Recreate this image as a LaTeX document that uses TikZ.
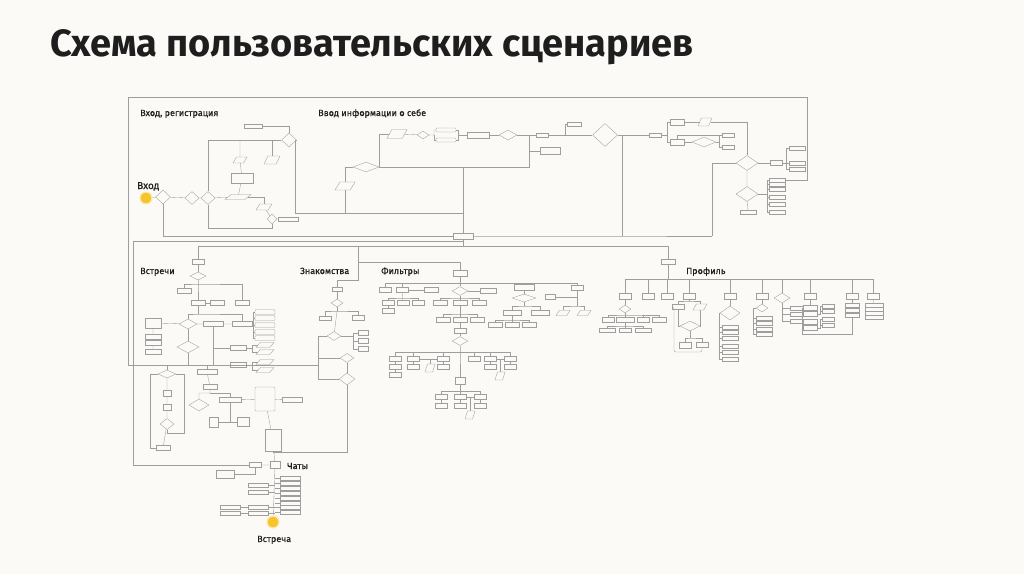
\documentclass[tikz,border=0pt]{standalone}
\usepackage{fontspec}
\setmainfont{Fira Sans}
\newfontfamily\lblfont{Fira Sans}[FakeBold=0.35]
\usetikzlibrary{shapes.geometric}
\definecolor{bg}{HTML}{FBFAF6}
\definecolor{lngray}{HTML}{9E9E9E}
\definecolor{ink}{HTML}{1E1E1E}
\definecolor{yel}{HTML}{F6C42B}

\begin{document}
\begin{tikzpicture}[x=1pt,y=-1pt,
  ln/.style={draw=lngray,line width=0.35pt},
  bx/.style={draw=lngray,fill=bg,line width=0.35pt,inner sep=0pt,minimum width=14pt,minimum height=5pt},
  rbx/.style={bx,rounded corners=1pt},
  dm/.style={diamond,draw=lngray,fill=bg,line width=0.35pt,inner sep=0pt,minimum width=14pt,minimum height=9pt},
  pr/.style={trapezium,trapezium left angle=65,trapezium right angle=115,trapezium stretches=true,
    draw=lngray,fill=bg,line width=0.35pt,inner sep=0.5pt,minimum width=14pt,minimum height=6pt},
  dot/.style={circle,fill=yel,draw=yel!35,line width=1.2pt,inner sep=0pt,minimum size=12pt},
  lbl/.style={anchor=base west,inner sep=0pt,text=ink,font=\lblfont\fontsize{9}{10}\selectfont}]
  \useasboundingbox[fill=bg] (0,0) rectangle (1024,574);

  \node[anchor=base west,inner sep=0pt,text=ink,font=\bfseries\fontsize{38}{42}\selectfont] (title)
    at (50,56) {Схема пользовательских сценариев};

  % labels
  \node[lbl] (tReg) at (140,116) {Вход, регистрация};
  \node[lbl] (tInfo) at (318,116) {Ввод информации о себе};
  \node[lbl,font=\lblfont\fontsize{10}{11}\selectfont] (tIn) at (137,189) {Вход};
  \node[lbl] (tMeet) at (140,274) {Встречи};
  \node[lbl] (tDate) at (300,274) {Знакомства};
  \node[lbl] (tFilt) at (381,274) {Фильтры};
  \node[lbl] (tProf) at (686,274) {Профиль};
  \node[lbl] (tChat) at (287,469) {Чаты};
  \node[lbl] (tEnd) at (257,542) {Встреча};

  \coordinate (fl) at (128,97);
  \coordinate (fr) at (807,97);

  % вход, регистрация
  \node[dot] (start) at (146,198) {};
  \node[dm,minimum width=15pt,minimum height=14pt] (a1) at (163,197) {};
  \node[dm,minimum width=14pt,minimum height=13pt] (a2) at (192,198) {};
  \node[dm,minimum width=14pt,minimum height=13pt] (a3) at (208,198) {};
  \node[pr,minimum width=26pt,minimum height=5pt] (a4) at (238,197) {};
  \node[bx,minimum width=22pt,minimum height=10pt] (a5) at (242,178) {};
  \node[pr] (a6) at (240,160) {};
  \node[pr,minimum width=16pt,minimum height=8pt] (a7) at (272,160) {};
  \node[dm,minimum width=15pt,minimum height=14pt] (a8) at (289,140) {};
  \node[bx,minimum width=18pt,minimum height=4pt] (a9) at (253,126) {};
  \node[pr,minimum width=16pt] (a10) at (264,207) {};
  \node[dm,minimum width=10pt,minimum height=10pt] (a11) at (272,219) {};
  \node[bx,minimum width=20pt,minimum height=4pt] (a12) at (288,219) {};
  \coordinate (a3b) at (208,228);
  \coordinate (a8r) at (295,213);

  % ввод информации о себе
  \node[bx,minimum width=20pt,minimum height=6pt] (hub) at (463,236) {};
  \node[pr,minimum width=20pt,minimum height=8pt] (b1) at (345,186) {};
  \node[dm,minimum width=26pt,minimum height=10pt] (b2) at (366,167) {};
  \node[pr,minimum width=20pt,minimum height=9pt] (b3) at (397,134) {};
  \node[dm,minimum width=12pt,minimum height=8pt] (b4) at (423,135) {};
  \node[rbx,minimum width=20pt,minimum height=4pt] (b5) at (446,130) {};
  \node[rbx,minimum width=20pt,minimum height=4pt] (b6) at (446,140) {};
  \node[bx,minimum width=22pt,minimum height=6pt] (b7) at (478,135) {};
  \node[dm,minimum width=18pt,minimum height=10pt] (b8) at (508,135) {};
  \node[bx,minimum width=12pt,minimum height=4pt] (b9) at (542,135) {};
  \node[bx,minimum width=14pt,minimum height=4pt] (b10) at (574,124) {};
  \node[dm,minimum width=25pt,minimum height=23pt] (b11) at (605,135) {};
  \node[bx,minimum width=20pt,minimum height=7pt] (b12) at (550,151) {};
  \coordinate (bs) at (434,135);
  \coordinate (bj) at (458,135);
  \coordinate (bk) at (565,135);
  \coordinate (bc) at (529,167);
  \coordinate (bd) at (622,236);

  \node[bx,minimum width=12pt,minimum height=4pt] (c1) at (655,135) {};
  \node[bx,minimum width=14pt,minimum height=6pt] (c2) at (677,122) {};
  \node[pr,minimum width=14pt,minimum height=8pt] (c3) at (705,122) {};
  \node[bx,minimum width=14pt,minimum height=6pt] (c4) at (677,142) {};
  \node[dm,minimum width=24pt,minimum height=10pt] (c5) at (704,142) {};
  \node[bx,minimum width=12pt,minimum height=4pt] (c6) at (728,135) {};
  \node[bx,minimum width=12pt,minimum height=4pt] (c7) at (728,147) {};
  \node[dm,minimum width=22pt,minimum height=15pt] (c8) at (747,163) {};
  \node[bx,minimum width=12pt,minimum height=5pt] (c9) at (776,163) {};
  \node[bx,minimum width=16pt,minimum height=4pt] (c10) at (797,148) {};
  \node[bx,minimum width=16pt,minimum height=4pt] (c11) at (797,163) {};
  \node[bx,minimum width=16pt,minimum height=4pt] (c12) at (797,169) {};
  \node[dm,minimum width=22pt,minimum height=15pt] (c13) at (747,194) {};
  \node[bx,minimum width=16pt,minimum height=4pt] (c14) at (748,212) {};
  \foreach \i/\y in {1/180,2/184,3/189,4/197,5/204,6/212}
    \node[bx,minimum width=16pt,minimum height=4pt] (d\i) at (777,\y) {};
  \coordinate (cs) at (667,135);
  \coordinate (ct) at (719,142);
  \coordinate (cu) at (786,163);
  \coordinate (cv) at (767,194);
  \coordinate (cz) at (712,236);

  % общие линии
  \coordinate (g1) at (133,241);
  \coordinate (g2) at (133,465);
  \coordinate (g3) at (198,246);
  \coordinate (g4) at (668,246);
  \coordinate (g5) at (358,280);
  \coordinate (g6) at (358,262);
  \coordinate (g7) at (128,365);

  % встречи
  \node[bx,minimum width=12pt] (m1) at (198,262) {};
  \node[dm,minimum width=16pt,minimum height=8pt] (m2) at (198,276) {};
  \node[bx] (m3) at (184,291) {};
  \node[bx] (m4) at (198,303) {};
  \node[bx] (m5) at (217,303) {};
  \node[bx] (m6) at (242,303) {};
  \node[dm,minimum width=18pt,minimum height=10pt] (m7) at (188,324) {};
  \node[bx,minimum width=20pt] (m8) at (213,324) {};
  \node[bx,minimum width=20pt] (m9) at (242,324) {};
  \foreach \i/\y in {10/312,11/318,12/325,13/332,14/338}
    \node[rbx,minimum width=20pt] (m\i) at (265,\y) {};
  \node[dm,minimum width=22pt,minimum height=12pt] (m15) at (188,347) {};
  \node[bx,minimum width=16pt,minimum height=10pt] (m16) at (153,323) {};
  \node[bx,minimum width=16pt] (m17) at (153,337) {};
  \node[bx,minimum width=16pt] (m18) at (153,343) {};
  \node[bx,minimum width=16pt] (m19) at (153,352) {};
  \node[bx,minimum width=16pt] (m20) at (238,348) {};
  \node[pr,minimum width=18pt,minimum height=5pt] (m21) at (265,345) {};
  \node[pr,minimum width=18pt,minimum height=5pt] (m22) at (265,352) {};
  \node[bx,minimum width=16pt] (m23) at (238,365) {};
  \node[pr,minimum width=18pt,minimum height=5pt] (m24) at (265,362) {};
  \node[pr,minimum width=18pt,minimum height=5pt] (m25) at (265,370) {};
  \coordinate (mh) at (198,284);
  \coordinate (mi) at (198,314);
  \coordinate (mb) at (253,325);
  \coordinate (mc) at (252,348);
  \coordinate (md) at (252,365);

  \node[dm,minimum width=18pt,minimum height=8pt] (n1) at (167,374) {};
  \node[bx,minimum width=20pt] (n2) at (207,372) {};
  \node[bx] (n3) at (210,387) {};
  \node[dm,minimum width=20pt,minimum height=12pt] (n4) at (199,405) {};
  \node[bx,minimum width=22pt] (n5) at (230,400) {};
  \node[rbx,minimum width=20pt,minimum height=24pt] (n6) at (265,399) {};
  \node[bx,minimum width=20pt] (n7) at (292,400) {};
  \node[bx,minimum width=9pt,minimum height=10pt] (n8) at (214,422) {};
  \node[bx,minimum width=12pt,minimum height=9pt] (n9) at (243,422) {};
  \node[bx,minimum width=16pt,minimum height=22pt] (n10) at (273,440) {};
  \node[bx,minimum width=8pt,minimum height=6pt] (n11) at (167,393) {};
  \node[bx,minimum width=8pt,minimum height=6pt] (n12) at (167,407) {};
  \node[dm,minimum width=14pt,minimum height=11pt] (n13) at (167,424) {};
  \node[bx] (n14) at (163,448) {};
  \coordinate (ne) at (210,393);
  \coordinate (nl) at (150,448);
  \coordinate (nr) at (184,433);
  \coordinate (nz) at (347,452);

  % чаты
  \node[bx,minimum width=12pt] (h1) at (255,465) {};
  \node[bx,minimum width=10pt,minimum height=7pt] (h2) at (275,465) {};
  \node[bx,minimum width=18pt,minimum height=8pt] (h3) at (225,474) {};
  \foreach \i/\y in {1/478,2/483,3/488,4/493,5/498,6/503,7/507,8/512}
    \node[bx,minimum width=20pt,minimum height=4pt] (k\i) at (290,\y) {};
  \node[bx,minimum width=20pt,minimum height=4pt] (h4) at (258,485) {};
  \node[bx,minimum width=20pt,minimum height=4pt] (h5) at (258,492) {};
  \node[bx,minimum width=20pt,minimum height=4pt] (h6) at (230,507) {};
  \node[bx,minimum width=20pt,minimum height=4pt] (h7) at (230,513) {};
  \node[bx,minimum width=20pt,minimum height=4pt] (h8) at (258,507) {};
  \node[bx,minimum width=20pt,minimum height=4pt] (h9) at (258,513) {};
  \node[dot] (end) at (273,522) {};

  % знакомства
  \node[bx,minimum width=10pt,minimum height=4pt] (z1) at (337,289) {};
  \node[dm,minimum width=12pt,minimum height=8pt] (z2) at (337,303) {};
  \node[bx,minimum width=12pt,minimum height=4pt] (z3) at (325,318) {};
  \node[bx,minimum width=12pt] (z4) at (358,318) {};
  \node[dm,minimum width=14pt,minimum height=9pt] (z5) at (334,336) {};
  \node[bx,minimum width=10pt] (z7) at (363,333) {};
  \node[bx,minimum width=10pt] (z8) at (363,341) {};
  \node[bx,minimum width=10pt] (z9) at (363,349) {};
  \node[dm,minimum width=14pt,minimum height=9pt] (z10) at (347,358) {};
  \node[dm,minimum width=16pt,minimum height=12pt] (z6) at (347,379) {};
  \coordinate (zs) at (337,311);
  \coordinate (zl) at (318,336);
  \coordinate (zb) at (353,336);

  % фильтры
  \node[bx,minimum height=6pt] (f1) at (460,273) {};
  \node[bx,minimum width=12pt] (f2) at (385,290) {};
  \node[bx,minimum width=12pt] (f3) at (402,290) {};
  \node[bx] (f4) at (431,290) {};
  \node[dm,minimum width=16pt,minimum height=9pt] (f5) at (460,291) {};
  \node[bx,minimum width=16pt] (f6) at (488,291) {};
  \node[bx,minimum width=12pt] (f7) at (388,303) {};
  \node[bx,minimum width=12pt] (f8) at (403,303) {};
  \node[bx,minimum width=12pt] (f9) at (418,303) {};
  \node[bx,minimum width=12pt] (f10) at (388,311) {};
  \node[bx] (f11) at (440,303) {};
  \node[bx] (f12) at (460,303) {};
  \node[bx] (f13) at (479,303) {};
  \node[bx] (f14) at (443,320) {};
  \node[bx] (f15) at (460,320) {};
  \node[bx] (f16) at (477,320) {};
  \node[bx,minimum width=12pt] (f17) at (460,331) {};
  \node[dm,minimum width=16pt,minimum height=9pt] (f18) at (460,341) {};
  \foreach \i/\x in {19/395,20/413,21/443,22/474,23/490,24/510}
    \node[bx,minimum width=12pt] (f\i) at (\x,359) {};
  \foreach \i/\x in {25/395,26/413,27/443,28/490,29/510}
    \node[bx,minimum width=12pt] (f\i) at (\x,367) {};
  \node[bx,minimum width=12pt] (f30) at (395,375) {};
  \node[pr,minimum width=10pt,minimum height=8pt] (f31) at (430,368) {};
  \node[pr,minimum width=10pt,minimum height=8pt] (f32) at (500,376) {};
  \node[bx,minimum width=10pt,minimum height=7pt] (f33) at (460,381) {};
  \foreach \i/\x in {34/441,35/460,36/480}
    \node[bx,minimum width=12pt] (f\i) at (\x,397) {};
  \foreach \i/\x in {37/441,38/460,39/480}
    \node[bx,minimum width=12pt] (f\i) at (\x,406) {};
  \node[pr,minimum width=10pt,minimum height=8pt] (f40) at (470,415) {};
  \node[bx,minimum width=20pt,minimum height=6pt] (f41) at (524,287) {};
  \node[dm,minimum width=24pt,minimum height=8pt] (f42) at (524,298) {};
  \node[bx,minimum width=18pt] (f43) at (512,313) {};
  \node[bx,minimum width=18pt] (f44) at (540,313) {};
  \node[bx] (f45) at (495,325) {};
  \node[bx] (f46) at (512,325) {};
  \node[bx] (f47) at (529,325) {};
  \node[bx,minimum width=12pt] (f48) at (577,288) {};
  \node[bx,minimum width=10pt] (f49) at (550,297) {};
  \node[pr,minimum width=14pt,minimum height=5pt] (f50) at (563,313) {};
  \node[pr,minimum width=14pt,minimum height=5pt] (f51) at (584,313) {};
  \coordinate (fa) at (385,283);
  \coordinate (fb) at (577,283);
  \coordinate (fc) at (403,298);
  \coordinate (fd) at (460,298);
  \coordinate (fe) at (460,314);
  \coordinate (ff) at (460,352);
  \coordinate (fg) at (460,391);
  \coordinate (fi) at (524,306);
  \coordinate (fj) at (512,320);
  \coordinate (fk) at (577,306);

  % профиль
  \node[bx] (p0) at (668,262) {};
  \foreach \i/\x in {1/625,2/648,3/667,4/689,5/730,6/762,8/810,9/852,10/873}
    \node[bx,minimum width=12pt,minimum height=6pt] (p\i) at (\x,296) {};
  \node[dm,minimum width=16pt,minimum height=10pt] (p7) at (782,298) {};
  \coordinate (pa) at (625,279);
  \coordinate (pb) at (873,279);
  \node[dm,minimum width=12pt,minimum height=8pt] (q1) at (625,309) {};
  \node[bx,minimum width=12pt] (q2) at (608,320) {};
  \node[bx,minimum width=18pt] (q3) at (625,320) {};
  \node[bx,minimum width=12pt] (q4) at (643,320) {};
  \node[bx,minimum width=14pt] (q5) at (659,320) {};
  \node[bx,minimum width=16pt,minimum height=4pt] (q6) at (607,330) {};
  \node[bx,minimum width=12pt,minimum height=4pt] (q7) at (625,330) {};
  \node[bx,minimum width=16pt,minimum height=4pt] (q8) at (643,330) {};
  \coordinate (qa) at (625,315);
  \coordinate (qb) at (625,326);
  \node[bx,minimum width=12pt] (r1) at (678,307) {};
  \node[pr,minimum width=14pt,minimum height=6pt] (r2) at (700,307) {};
  \node[dm,minimum width=20pt,minimum height=10pt] (r3) at (690,326) {};
  \node[bx,minimum width=12pt,minimum height=6pt] (r4) at (685,345) {};
  \node[bx,minimum width=12pt] (r5) at (702,345) {};
  \coordinate (ra) at (689,301);
  \coordinate (rb) at (690,338);
  \coordinate (rc) at (674,352);
  \node[dm,minimum width=20pt,minimum height=14pt] (s0) at (730,313) {};
  \foreach \i/\y in {1/327,2/332,3/338,4/346,5/352,6/359}
    \node[bx,minimum width=16pt,minimum height=4pt] (s\i) at (730,\y) {};
  \coordinate (sb) at (719,359);
  \node[dm,minimum width=12pt,minimum height=8pt] (t0) at (762,308) {};
  \foreach \i/\y in {1/318,2/323,3/329,4/334}
    \node[bx,minimum width=16pt,minimum height=4pt] (t\i) at (764,\y) {};
  \coordinate (tb) at (753,334);
  \foreach \i/\y in {1/308,2/314,3/321}
    \node[bx,minimum width=14pt,minimum height=4pt] (u\i) at (797,\y) {};
  \coordinate (ub) at (782,321);
  \foreach \i/\y in {1/308,2/314,3/322,4/328}
    \node[bx,minimum width=14pt] (v\i) at (810,\y) {};
  \node[bx,minimum width=12pt,minimum height=4pt] (v5) at (828,306) {};
  \node[bx,minimum width=12pt,minimum height=4pt] (v6) at (828,311) {};
  \node[bx,minimum width=12pt,minimum height=4pt] (v7) at (828,319) {};
  \node[bx,minimum width=12pt,minimum height=4pt] (v8) at (828,325) {};
  \coordinate (vb) at (802,334);
  \coordinate (vc) at (820,314);
  \coordinate (vd) at (820,328);
  \foreach \i/\y in {1/305,2/310,3/315}
    \node[bx,minimum width=14pt,minimum height=4pt] (w\i) at (852,\y) {};
  \foreach \i/\y in {1/305,2/309,3/313,4/317}
    \node[bx,minimum width=18pt,minimum height=4pt] (x\i) at (874,\y) {};

  % connectors
  \begin{scope}[ln]
    \draw (start) -- (a1) -- (a2) -- (a3) -- (a4);
    \draw (a1) |- (hub);
    \draw (a3) |- (a8);
    \draw (a3) -- (a3b) -| (a11);
    \draw (a6 |- a8) -- (a6) -- (a5) -- (a4);
    \draw (a9) -| (a8);
    \draw (a8) -| (a7);
    \draw (a4) -| (a10);
    \draw (a10) -- (a11) -- (a12);
    \draw (a8.east) -| (a8r) -| (hub);

    \draw (b1) -- (b1 |- a8r);
    \draw (b2.west) -| (b1);
    \draw (b2.east) |- (b3.west);
    \draw (b3) -- (b4) -- (bs) |- (b5);
    \draw (bs) |- (b6);
    \draw (b5) -| (bj) -- (b7);
    \draw (b6) -| (bj);
    \draw (b7) -- (b8) -- (b9) -- (b11);
    \draw (b10) -| (bk);
    \draw (b2) -- (bc) -- (bc |- b9);
    \draw (b12) -- (b12 -| bc);
    \draw (hub) -- (hub |- b2);
    \draw (b11.east) -| (bd);
    \draw (hub) -- (bd) -- (cz);

    \draw (fl) -- (fr) |- (d1.east);
    \draw (b11) -- (c1) -- (cs) |- (c2);
    \draw (cs) |- (c4);
    \draw (c2) -- (c3);
    \draw (c3) -| (c8);
    \draw (c4.north) |- (c6);
    \draw (c4) -- (c5) -- (ct) |- (c6);
    \draw (ct) |- (c7);
    \draw (c8) -- (c9) -- (cu) |- (c10);
    \draw (cu) -- (c11);
    \draw (cu) |- (c12);
    \draw (c8) -- (c13) -- (c14);
    \draw (c13) -- (cv);
    \draw (cv |- d1) -- (cv |- d6);
    \foreach \i in {1,...,6} \draw (d\i) -- (d\i -| cv);
    \draw (c8.west) -| (cz);

    \draw (hub) |- (g1) -- (g2) -- (h1);
    \draw (hub) -- (hub |- g3);
    \draw (g3) -- (g4) -- (p0);
    \draw (g3) -- (m1);
    \draw (z1) |- (g5) -- (g5 |- g3);
    \draw (f1) |- (g6);
    \draw (fl) -- (g7) -- (g7 -| zl);

    \draw (m1) -- (m2) -- (mh) -- (m4);
    \draw (m3) |- (mh) -| (m6);
    \draw (m4) -- (m5);
    \draw (m4) -- (mi);
    \draw (m7) |- (mi) -| (m9);
    \draw (m7) -- (m8) -- (m9) -- (mb);
    \draw (mb |- m10) -- (mb |- m14);
    \foreach \i in {10,...,14} \draw (m\i) -- (m\i -| mb);
    \draw (m7) -- (m16) -- (m17) -- (m18) -- (m19);
    \draw (m7) -- (m15) -- (m15 |- g7);
    \draw (m8) -- (m8 |- g7);
    \draw (m20) -- (m20 -| m8);
    \draw (m20) -- (mc) |- (m21);
    \draw (mc) |- (m22);
    \draw (m23) -- (md) |- (m24);
    \draw (md) |- (m25);

    \draw (n1) -- (n1 |- g7);
    \draw (n2) -- (n2 |- g7);
    \draw (n2) -- (n3) -- (ne) -| (n4);
    \draw (ne) -| (n5);
    \draw (n5) -- (n6) -- (n7);
    \draw (n5) |- (n9);
    \draw (n8) -- (n9);
    \draw (n6) -- (n10) -- (h2);
    \draw (z6) -- (nz) -| (n10);
    \draw (n1) -- (n11) -- (n12) -- (n13) -- (n14);
    \draw (n1.west) -| (nl) -- (n14);
    \draw (n1.east) -| (nr) -| (n13);

    \draw (h1) -- (h2) -- (end);
    \draw (h1) |- (h3);
    \foreach \i in {1,...,8} \draw (k\i) -- (k\i -| h2);
    \draw (h4) -- (h4 -| h2);
    \draw (h5) -- (h5 -| h2);
    \draw (h6) -- (h8) -- (h8 -| h2);
    \draw (h7) -- (h9) -- (h9 -| h2);

    \draw (z1) -- (z2) -- (zs);
    \draw (z3) |- (zs) -| (z4);
    \draw (zs) -- (z5);
    \draw (z5) -- (zl) |- (z6);
    \draw (zl) |- (z10);
    \draw (z5) -- (zb);
    \foreach \i in {7,8,9} \draw (zb) |- (z\i);
    \draw (z10) -- (z6);

    \draw (fa) -- (fb);
    \draw (f1) -- (f5) -- (f6);
    \draw (fa) -- (f2);
    \draw (f3) -- (f3 |- fa);
    \draw (f3) -- (f4);
    \draw (f41) -- (f41 |- fa);
    \draw (fb) -- (f48);
    \draw (f3) -- (f8);
    \draw (f7) |- (fc) -| (f9);
    \draw (f7) -- (f10);
    \draw (f11) |- (fd) -| (f13);
    \draw (f5) -- (f12) -- (f15) -- (f17) -- (f18) -- (ff) -- (f33) -- (f35);
    \draw (f14) |- (fe) -| (f16);
    \draw (f19) |- (ff) -| (f24);
    \foreach \i in {20,21,22,23} \draw (f\i) -- (f\i |- ff);
    \draw (f19) -- (f25) -- (f30);
    \draw (f20) -- (f26);
    \draw (f21) -- (f27);
    \draw (f23) -- (f28);
    \draw (f24) -- (f29);
    \draw (f20) -- (f21);
    \draw (f31) -- (f31 |- f20);
    \draw (f23) -- (f24);
    \draw (f32) -- (f32 |- f24);
    \draw (f34) |- (fg) -| (f36);
    \draw (f34) -- (f37);
    \draw (f35) -- (f38);
    \draw (f36) -- (f39);
    \draw (f35) -- (f36);
    \draw (f40) -- (f40 |- f35);
    \draw (f41) -- (f42) -- (fi);
    \draw (f43) |- (fi) -| (f44);
    \draw (f43) -- (f46);
    \draw (f45) |- (fj) -| (f47);
    \draw (f48) -- (fk);
    \draw (f50) |- (fk) -| (f51);
    \draw (f49) -- (f49 -| f48);

    \draw (pa) -- (pb);
    \draw (p0) -- (p0 |- pa);
    \foreach \i in {1,2,3,4,5,6,7,8,9,10} \draw (p\i) -- (p\i |- pa);
    \draw (p1) -- (q1) -- (q3) -- (q7);
    \draw (q2) |- (qa) -| (q5);
    \draw (q4) -- (q4 |- qa);
    \draw (q6) |- (qb) -| (q8);
    \draw (p4) -- (ra);
    \draw (r1) |- (ra) -| (r2);
    \draw (r1) |- (r3);
    \draw (r2) |- (r3);
    \draw (r3) -- (rb);
    \draw (r4) |- (rb) -| (r5);
    \draw[rounded corners=2pt] (r1.west) -| (rc) -| (r5);
    \draw (p5) -- (s0);
    \draw (s0.west) -| (sb) -- (s6);
    \foreach \i in {1,...,5} \draw (s\i) -- (s\i -| sb);
    \draw (p6) -- (t0);
    \draw (t0.west) -| (tb) -- (t4);
    \foreach \i in {1,2,3} \draw (t\i) -- (t\i -| tb);
    \draw (p7) -- (ub) -- (u3);
    \draw (u1) -- (u1 -| ub);
    \draw (u2) -- (u2 -| ub);
    \draw (p8) -- (v1);
    \draw (v1.west) -| (vb) -| (w3);
    \foreach \i in {2,3,4} \draw (v\i) -- (v\i -| vb);
    \draw (v2) -- (vc) |- (v5);
    \draw (vc) |- (v6);
    \draw (v4) -- (vd) |- (v7);
    \draw (vd) |- (v8);
    \draw (p9) -- (w1) -- (w2) -- (w3);
    \draw (p10) -- (x1);
  \end{scope}
\end{tikzpicture}
\end{document}
